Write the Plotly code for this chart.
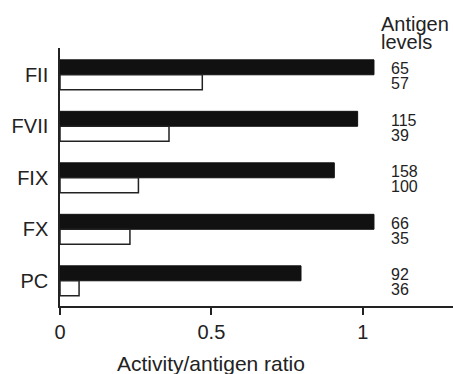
import plotly.graph_objects as go

categories = ["FII", "FVII", "FIX", "FX", "PC"]
activity_black = [1.037, 0.983, 0.906, 1.037, 0.796]
activity_white = [0.47, 0.36, 0.259, 0.231, 0.063]
antigen_black = ["65", "115", "158", "66", "92"]
antigen_white = ["57", "39", "100", "35", "36"]
x_ticks = [0, 0.5, 1]
x_tick_labels = ["0", "0.5", "1"]

FONT = "Liberation Sans, Arial, Helvetica, sans-serif"
INK = "#222222"

W, H = 453, 374
top, bottom = 48, 306

fig = go.Figure()
fig.add_trace(go.Bar(
    y=categories, x=activity_black, orientation="h",
    marker=dict(color="#111111", line=dict(color="#111111", width=1)),
    showlegend=False, hoverinfo="skip",
))
fig.add_trace(go.Bar(
    y=categories, x=activity_white, orientation="h",
    marker=dict(color="white", line=dict(color=INK, width=1.5)),
    showlegend=False, hoverinfo="skip",
))

annotations = []
bar_off = 0.145
for i, (a, b) in enumerate(zip(antigen_black, antigen_white)):
    annotations.append(dict(x=1.088, y=i - bar_off, xref="x", yref="y", text=a,
                            showarrow=False, xanchor="left", yanchor="middle",
                            yshift=-1.5, font=dict(size=16, color=INK, family=FONT)))
    annotations.append(dict(x=1.088, y=i + bar_off, xref="x", yref="y", text=b,
                            showarrow=False, xanchor="left", yanchor="middle",
                            yshift=-1.5, font=dict(size=16, color=INK, family=FONT)))

def ypix(px):
    return (bottom - px) / (bottom - top)

annotations.append(dict(x=1.055, y=ypix(24), xref="x", yref="paper", text="Antigen",
                        showarrow=False, xanchor="left", yanchor="middle",
                        font=dict(size=20, color=INK, family=FONT)))
annotations.append(dict(x=1.055, y=ypix(42), xref="x", yref="paper", text="levels",
                        showarrow=False, xanchor="left", yanchor="middle",
                        font=dict(size=20, color=INK, family=FONT)))
annotations.append(dict(x=0.5, y=ypix(363), xref="x", yref="paper", text="Activity/antigen ratio",
                        showarrow=False, xanchor="center", yanchor="middle",
                        font=dict(size=21, color=INK, family=FONT)))

fig.update_layout(
    width=W, height=H,
    margin=dict(l=60, r=0, t=top, b=H - bottom, autoexpand=False),
    paper_bgcolor="white", plot_bgcolor="white",
    barmode="group", bargap=0.42, bargroupgap=0,
    font=dict(family=FONT, size=20, color=INK),
    annotations=annotations,
    xaxis=dict(range=[0, 1.298], tickvals=x_ticks, ticktext=x_tick_labels,
               showgrid=False, zeroline=False, showline=True, linecolor=INK,
               linewidth=1.5, ticks="outside", ticklen=7, tickwidth=1.5, tickcolor=INK,
               tickfont=dict(size=20, family=FONT, color=INK)),
    yaxis=dict(type="category", categoryorder="array", categoryarray=categories,
               range=[4.49, -0.52], showgrid=False, zeroline=False, showline=True,
               linecolor=INK, linewidth=1.5, ticks="", ticklabelstandoff=6,
               tickfont=dict(size=20, family=FONT, color=INK)),
)

fig.write_html(
    "out.html",
    config={"displayModeBar": False},
    post_script="document.body.style.margin='0';document.documentElement.style.overflow='hidden';document.body.style.overflow='hidden';",
)
